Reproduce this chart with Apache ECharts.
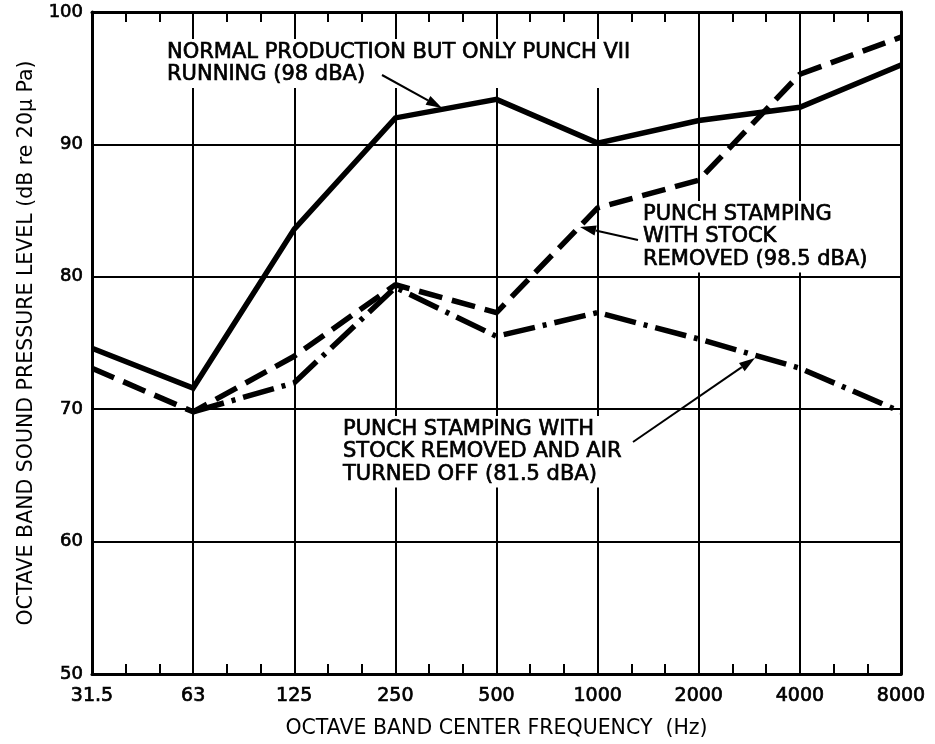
<!DOCTYPE html>
<html>
<head>
<meta charset="utf-8">
<script src="https://cdn.jsdelivr.net/npm/echarts@6/dist/echarts.min.js"></script>
<style>
  html, body { margin: 0; padding: 0; background: #fff; }
  #chart { width: 935px; height: 744px; }
</style>
</head>
<body>
<div id="chart"></div>
<script>
// octave band centre frequencies (Hz)
const frequencies = ['31.5', '63', '125', '250', '500', '1000', '2000', '4000', '8000'];

// octave band SPL, dB re 20 µPa
const normalProduction = [74.6, 71.6, 83.6, 92.0, 93.4, 90.1, 91.8, 92.8, 96.0];
const stockRemoved = [73.1, 69.8, 74.0, 79.4, 77.3, 85.2, 87.3, 95.3, 98.1];
const airOff = [null, 69.8, 72.0, 79.2, 75.5, 77.3, 75.3, 73.1, 69.8];

const yTicks = [50, 60, 70, 80, 90, 100];

const FONT = 'DejaVu Sans';

function toPairs(arr) {
  const out = [];
  arr.forEach((v, i) => { if (v != null) out.push([i, v]); });
  return out;
}

// arrow for the callouts (pixel positions, annotation only)
function arrow(x1, y1, x2, y2) {
  const a = Math.atan2(y2 - y1, x2 - x1);
  const len = 16, half = 5;
  const bx = x2 - len * Math.cos(a), by = y2 - len * Math.sin(a);
  const px = -Math.sin(a) * half, py = Math.cos(a) * half;
  return [
    { type: 'line', shape: { x1: x1, y1: y1, x2: bx, y2: by }, style: { stroke: '#000', lineWidth: 2 }, z: 20 },
    { type: 'polygon', shape: { points: [[x2, y2], [bx + px, by + py], [bx - px, by - py]] }, style: { fill: '#000' }, z: 20 }
  ];
}

function label(x, y, text) {
  return {
    type: 'text', left: x, top: y, z: 15,
    style: {
      text: text, font: '21px "' + FONT + '"', fill: '#000', lineHeight: 22.5,
      stroke: '#000', lineWidth: 0.7,
      backgroundColor: '#fff', padding: [2, 4, 2, 4]
    }
  };
}

const chart = echarts.init(document.getElementById('chart'));

const gridLine = { show: true, lineStyle: { color: '#000', width: 2 } };
const tickText = { fontFamily: FONT, color: '#000', textBorderColor: '#000', textBorderWidth: 0.7 };
const nameText = { fontFamily: FONT, fontSize: 20.5, color: '#000' };

const option = {
  backgroundColor: '#fff',
  animation: false,
  grid: { left: 92, right: 34, top: 12, bottom: 67 },
  xAxis: [
    {
      type: 'value', min: 0, max: 8, interval: 1,
      name: 'OCTAVE BAND CENTER FREQUENCY  (Hz)',
      nameLocation: 'middle', nameGap: 44,
      nameTextStyle: nameText,
      axisLine: { show: true, onZero: false, lineStyle: { color: '#000', width: 3 } },
      axisTick: { show: true, inside: true, length: 10, lineStyle: { color: '#000', width: 2 } },
      minorTick: { show: true, splitNumber: 3, length: 10, lineStyle: { color: '#000', width: 2 } },
      axisLabel: Object.assign({ fontSize: 19, margin: 13, formatter: v => frequencies[v] || '' }, tickText),
      splitLine: gridLine
    },
    {
      type: 'value', min: 0, max: 8, interval: 1, position: 'top',
      axisLine: { show: true, onZero: false, lineStyle: { color: '#000', width: 3 } },
      axisTick: { show: true, inside: true, length: 10, lineStyle: { color: '#000', width: 2 } },
      minorTick: { show: true, splitNumber: 3, length: 10, lineStyle: { color: '#000', width: 2 } },
      axisLabel: { show: false },
      splitLine: { show: false }
    }
  ],
  yAxis: [
    {
      type: 'value', min: 50, max: 100, interval: 10,
      name: 'OCTAVE BAND SOUND PRESSURE LEVEL (dB re 20\u00b5 Pa)',
      nameLocation: 'middle', nameGap: 55,
      nameTextStyle: nameText,
      axisLine: { show: true, onZero: false, lineStyle: { color: '#000', width: 3 } },
      axisTick: { show: false },
      axisLabel: Object.assign({ fontSize: 18, margin: 9, formatter: v => (yTicks.includes(v) ? String(v) : '') }, tickText),
      splitLine: gridLine
    },
    {
      type: 'value', min: 50, max: 100, interval: 10, position: 'right',
      axisLine: { show: true, onZero: false, lineStyle: { color: '#000', width: 3 } },
      axisTick: { show: false },
      axisLabel: { show: false },
      splitLine: { show: false }
    }
  ],
  series: [
    {
      name: 'Normal production, only punch VII running (98 dBA)',
      type: 'line', data: toPairs(normalProduction), symbol: 'none', z: 10,
      lineStyle: { color: '#000', width: 5.5, type: 'solid', join: 'miter' }
    },
    {
      name: 'Punch stamping with stock removed (98.5 dBA)',
      type: 'line', data: toPairs(stockRemoved), symbol: 'none', z: 10,
      lineStyle: { color: '#000', width: 5.5, type: [24, 10], cap: 'butt' }
    },
    {
      name: 'Punch stamping with stock removed and air turned off (81.5 dBA)',
      type: 'line', data: toPairs(airOff), symbol: 'none', z: 10,
      lineStyle: { color: '#000', width: 5.5, type: [32, 8, 4, 8], cap: 'butt' }
    }
  ],
  graphic: [
    label(163, 39, 'NORMAL PRODUCTION BUT ONLY PUNCH VII\nRUNNING (98 dBA)'),
    label(639, 201, 'PUNCH STAMPING\nWITH STOCK\nREMOVED (98.5 dBA)'),
    label(339, 416, 'PUNCH STAMPING WITH\nSTOCK REMOVED AND AIR\nTURNED OFF (81.5 dBA)'),
    ...arrow(382, 75, 442, 108),
    ...arrow(638, 240, 580, 227),
    ...arrow(633, 442, 755, 358)
  ]
};

chart.setOption(option);
window.addEventListener('resize', () => chart.resize());
</script>
</body>
</html>
